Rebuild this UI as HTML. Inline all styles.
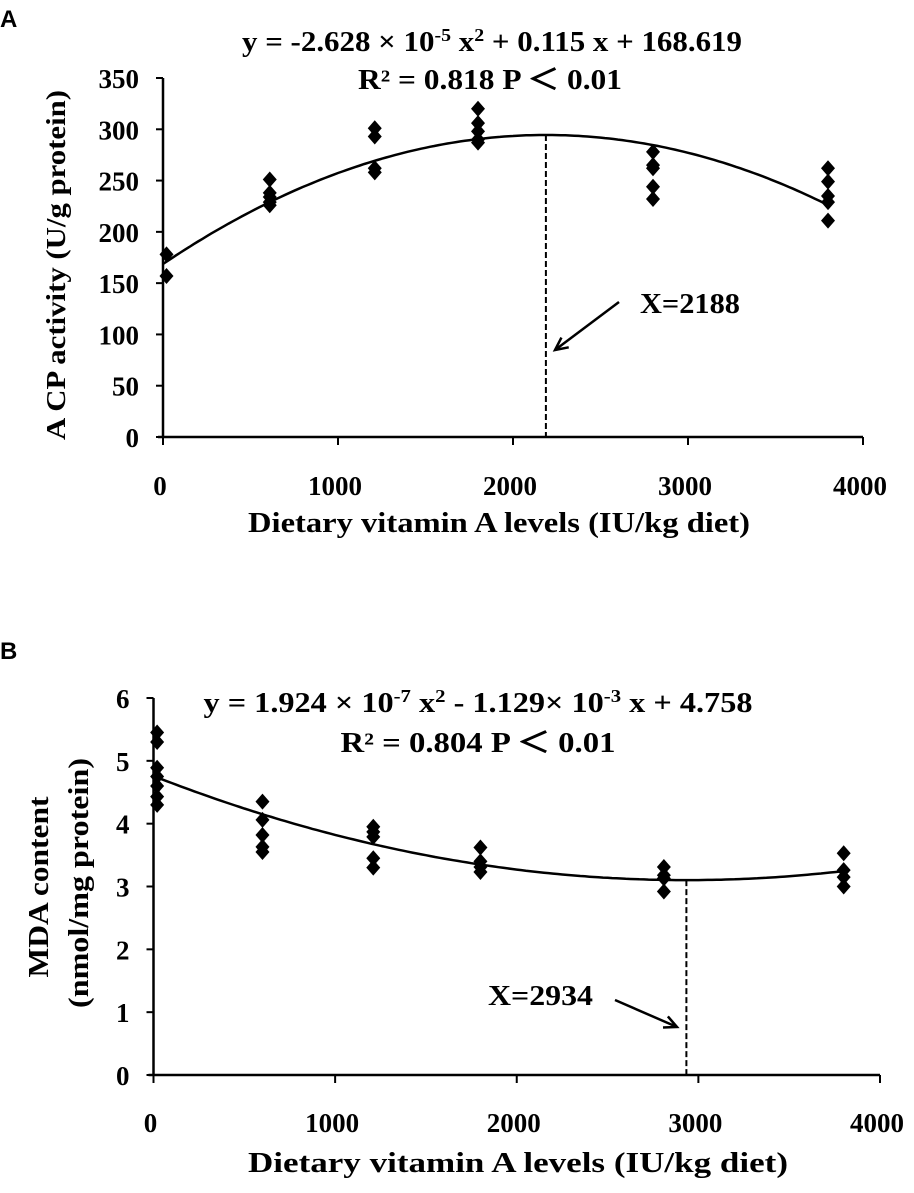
<!DOCTYPE html>
<html><head><meta charset="utf-8"><style>
html,body{margin:0;padding:0;background:#fff;}
svg{display:block;}
text{font-family:"Liberation Serif",serif;font-weight:bold;fill:#000;}
.tk{font-size:27px;}
.lt{font-family:"Liberation Sans",sans-serif;font-size:24px;}
</style></head><body>
<svg id="s" width="914" height="1193" viewBox="0 0 914 1193">
<text class="lt" x="0" y="27">A</text>
<text class="lt" x="0" y="659">B</text>
<text x="492" y="51" font-size="28" text-anchor="middle" textLength="500" lengthAdjust="spacingAndGlyphs">y = -2.628 × 10<tspan dy="-10" font-size="18">-5</tspan><tspan dy="10"> x</tspan><tspan dy="-10" font-size="18">2</tspan><tspan dy="10"> + 0.115 x + 168.619</tspan></text>
<text x="490" y="89" font-size="28" text-anchor="middle" textLength="264" lengthAdjust="spacingAndGlyphs">R² = 0.818  P ＜ 0.01</text>
<text transform="translate(65,265) rotate(-90)" font-size="27" text-anchor="middle" textLength="350" lengthAdjust="spacingAndGlyphs">A CP  activity (U/g protein)</text>
<text x="499" y="532" font-size="28" text-anchor="middle" textLength="502" lengthAdjust="spacingAndGlyphs">Dietary vitamin A levels (IU/kg diet)</text>
<text x="478" y="712" font-size="28" text-anchor="middle" textLength="549" lengthAdjust="spacingAndGlyphs">y = 1.924 × 10<tspan dy="-10" font-size="18">-7</tspan><tspan dy="10"> x</tspan><tspan dy="-10" font-size="18">2</tspan><tspan dy="10"> - 1.129× 10</tspan><tspan dy="-10" font-size="18">-3</tspan><tspan dy="10"> x + 4.758</tspan></text>
<text x="478" y="752" font-size="28" text-anchor="middle" textLength="275" lengthAdjust="spacingAndGlyphs">R² = 0.804  P ＜ 0.01</text>
<text transform="translate(48,887) rotate(-90)" font-size="28" text-anchor="middle" textLength="181" lengthAdjust="spacingAndGlyphs">MDA content</text>
<text transform="translate(88,883) rotate(-90)" font-size="28" text-anchor="middle" textLength="250" lengthAdjust="spacingAndGlyphs">(nmol/mg protein)</text>
<text x="518" y="1172" font-size="28" text-anchor="middle" textLength="540" lengthAdjust="spacingAndGlyphs">Dietary vitamin A levels (IU/kg diet)</text>
</svg>
<script>
const xTicks = [0, 1000, 2000, 3000, 4000];
const yTicksA = [0, 50, 100, 150, 200, 250, 300, 350];
const yTicksB = [0, 1, 2, 3, 4, 5, 6];
const levelsA = [20, 610, 1210, 1800, 2800, 3800];
const valuesA = [[178,157],[251,238,234,229,226],[301,293,262,258],[320,306,298,290,287],[278,265,262,244,232],[262,249,235,229,211]];
const levelsB = [20, 600, 1210, 1800, 2810, 3800];
const valuesB = [[5.45,5.3,4.89,4.75,4.6,4.43,4.3],[4.35,4.06,3.82,3.63,3.55],[3.95,3.87,3.79,3.45,3.3],[3.62,3.4,3.31,3.23],[3.31,3.18,3.13,2.92],[3.53,3.26,3.15,3.0]];
const coefA = [-2.628e-5, 0.115, 168.619];
const coefB = [1.924e-7, -1.129e-3, 4.758];
const vertexA = 2188, vertexB = 2934;

const NS = "http://www.w3.org/2000/svg";
const svg = document.getElementById('s');
function mk(tag, attrs){const e=document.createElementNS(NS,tag);for(const k in attrs)e.setAttribute(k,attrs[k]);svg.appendChild(e);return e;}

function panel(p, cfg){
  const xs = v => cfg.x0 + (v/4000)*(cfg.x1-cfg.x0);
  const ys = v => cfg.y0 - (v/cfg.ymax)*(cfg.y0-cfg.y1);
  let e;
  e = mk('line',{x1:cfg.x0,y1:cfg.y0,x2:cfg.x0,y2:cfg.y1,stroke:'#000','stroke-width':2.5});
  
  
  e = mk('line',{x1:cfg.x0-5,y1:cfg.y0,x2:cfg.x1,y2:cfg.y0,stroke:'#000','stroke-width':2.5});
  
  
  cfg.yt.forEach(v=>{
    e = mk('line',{x1:cfg.x0-7,y1:ys(v),x2:cfg.x0,y2:ys(v),stroke:'#000','stroke-width':2});
    
    
    e = mk('text',{x:cfg.x0-24,y:ys(v)+10,'text-anchor':'end',class:'tk'});
    e.textContent = v;
    
    
  });
  xTicks.forEach(v=>{
    e = mk('line',{x1:xs(v),y1:cfg.y0,x2:xs(v),y2:cfg.y0+8,stroke:'#000','stroke-width':2});
    
    
    e = mk('text',{x:xs(v)-3,y:cfg.xly,'text-anchor':'middle',class:'tk'});
    e.textContent = v;
    
    
  });
  const f = x => cfg.c[0]*x*x + cfg.c[1]*x + cfg.c[2];
  let d='';
  for(let x=0;x<=3800;x+=25){d+=(x?'L':'M')+xs(x).toFixed(1)+','+ys(f(x)).toFixed(1);}
  e = mk('path',{d:d,fill:'none',stroke:'#000','stroke-width':2.5});
  
  
  e = mk('line',{x1:xs(cfg.vx),y1:ys(f(cfg.vx)),x2:xs(cfg.vx),y2:cfg.y0,stroke:'#000','stroke-width':2,'stroke-dasharray':'6,3'});
  
  
  cfg.lv.forEach((lvl,i)=>{
    cfg.vals[i].forEach(v=>{
      const cx=xs(lvl), cy=ys(v);
      e = mk('path',{d:`M${cx},${cy-8}L${cx+7},${cy}L${cx},${cy+8}L${cx-7},${cy}Z`,fill:'#000'});
      
      
    });
  });
  const a=cfg.arrow;
  e = mk('line',{x1:a[0],y1:a[1],x2:a[2],y2:a[3],stroke:'#000','stroke-width':2.5});
  
  
  const ang=Math.atan2(a[3]-a[1],a[2]-a[0]);
  const h1=[a[2]-14*Math.cos(ang-0.45),a[3]-14*Math.sin(ang-0.45)], h2=[a[2]-14*Math.cos(ang+0.45),a[3]-14*Math.sin(ang+0.45)];
  e = mk('polyline',{points:`${h1[0]},${h1[1]} ${a[2]},${a[3]} ${h2[0]},${h2[1]}`,fill:'none',stroke:'#000','stroke-width':2.5});
  
  
  e = mk('text',{x:cfg.lab[0],y:cfg.lab[1],'font-size':28,textLength:cfg.lab[2],lengthAdjust:'spacingAndGlyphs'});
  e.textContent = 'X=' + cfg.vx;
  
  
}
panel('a',{x0:163,x1:863,y0:437,y1:78,ymax:350,yt:yTicksA,xly:495,c:coefA,vx:vertexA,lv:levelsA,vals:valuesA,arrow:[619,302,555,350],lab:[640,313,100]});
panel('b',{x0:153.5,x1:880,y0:1075,y1:698,ymax:6,yt:yTicksB,xly:1132,c:coefB,vx:vertexB,lv:levelsB,vals:valuesB,arrow:[615,1000,677,1027],lab:[488,1005,105]});
</script>
</body></html>
